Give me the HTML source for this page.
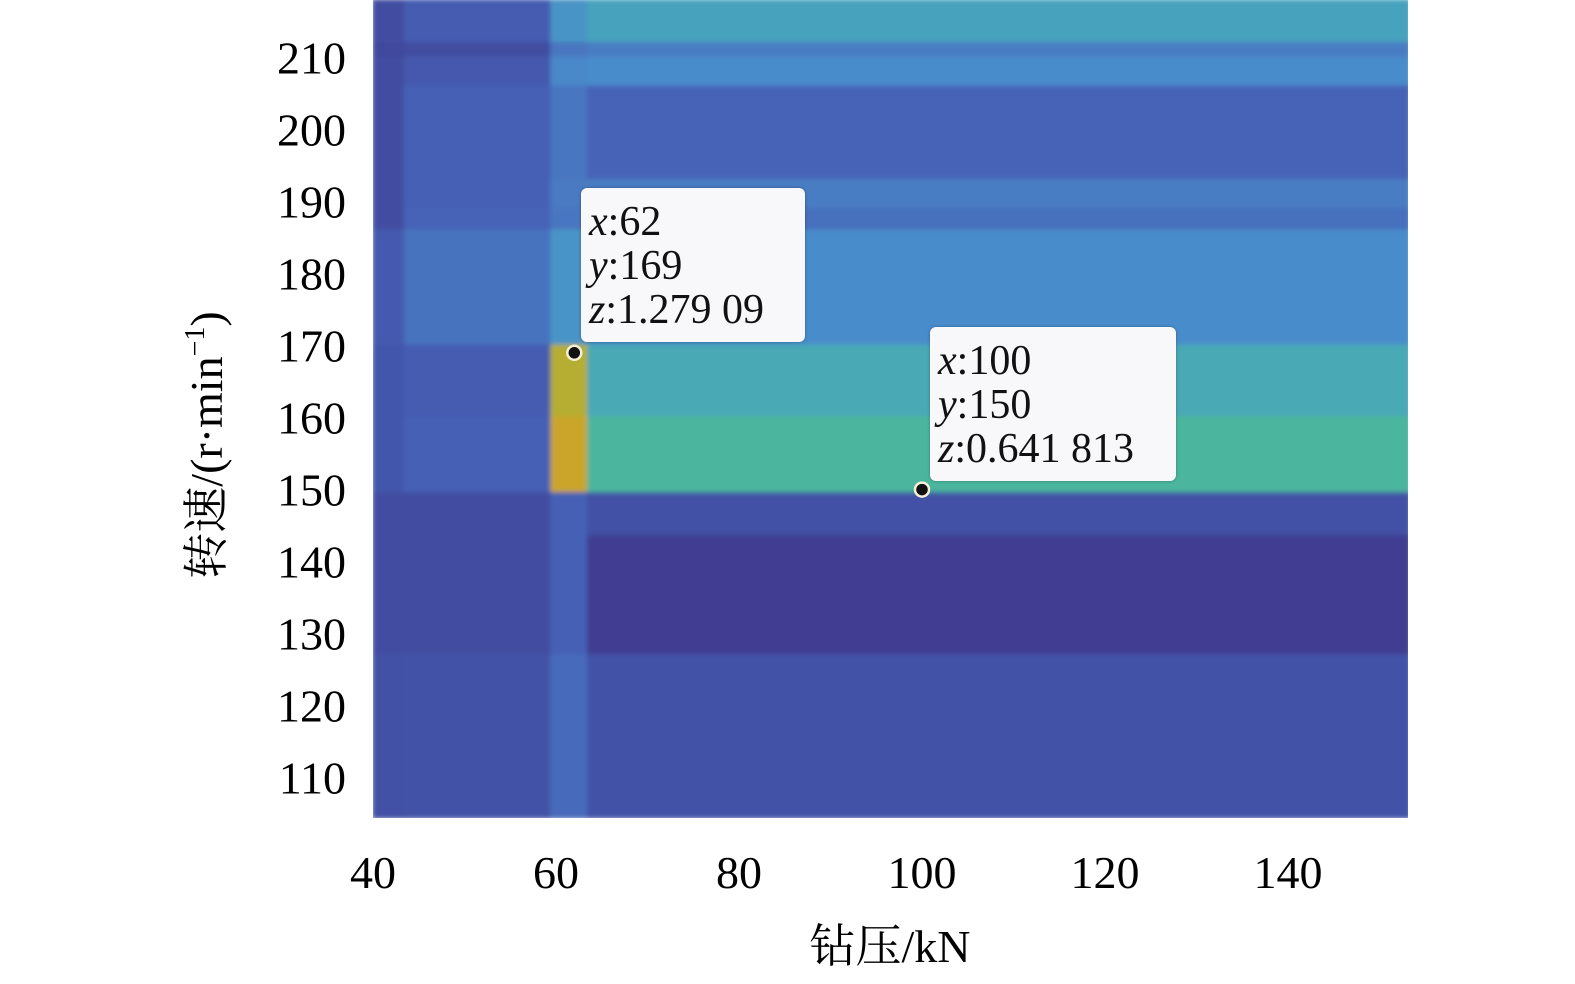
<!DOCTYPE html>
<html><head><meta charset="utf-8"><style>
body{margin:0;width:1575px;height:984px;background:#fff;overflow:hidden;font-family:"Liberation Serif","Noto Serif CJK SC",serif;}
.tip{position:absolute;background:#f8f8fb;border-radius:6px;box-shadow:0 0 3px rgba(0,0,0,.3);font-size:42px;line-height:44px;color:#111;padding:12px 12px 10px 8px;}
.tip i{font-style:italic}
</style></head><body>
<svg id="chart" width="1575" height="984" style="position:absolute;left:0;top:0">
<defs><filter id="bl" x="0" y="0" width="1" height="1"><feGaussianBlur stdDeviation="2.5"/></filter>
<clipPath id="cp"><rect x="373" y="0" width="1035" height="818"/></clipPath></defs>
<g id="cells" clip-path="url(#cp)"><g id="cellsInner" filter="url(#bl)"></g></g>
<g id="xt"></g><g id="yt"></g>
<text x="890" y="962" font-size="46" text-anchor="middle">钻压/kN</text>
<text transform="translate(222,445) rotate(-90)" font-size="46" text-anchor="middle">转速/(r·min<tspan dy="-18" font-size="28">−1</tspan><tspan dy="18">)</tspan></text>
<g id="marks"></g>
</svg>
<div class="tip" style="left:581px;top:188px;width:204px"><i>x</i>:62<br><i>y</i>:169<br><i>z</i>:1.279 09</div>
<div class="tip" style="left:930px;top:327px;width:226px"><i>x</i>:100<br><i>y</i>:150<br><i>z</i>:0.641 813</div>
<script>
const xEdges=[40,43.5,59.5,63.5,153.3];
const yEdges=[218,212,210,206,193,189,186,170,160,149.5,143.5,127,104.4];
const zRows=[
[0.1,0.18,0.45,0.54],
[0.08,0.1,0.3,0.33],
[0.1,0.16,0.38,0.4],
[0.1,0.2,0.3,0.22],
[0.1,0.2,0.32,0.33],
[0.1,0.22,0.3,0.27],
[0.17,0.28,0.45,0.4],
[0.15,0.18,1.1,0.57],
[0.15,0.2,1.2,0.64],
[0.1,0.1,0.2,0.12],
[0.1,0.1,0.2,0.02],
[0.12,0.13,0.25,0.13]];
const xTicks=[40,60,80,100,120,140];
const yTicks=[110,120,130,140,150,160,170,180,190,200,210];
const points=[[62,169],[100,150]];
const X=v=>373+(v-40)*9.15, Y=v=>(218-v)*7.2;
const stops=[[0,[62,58,142]],[0.2,[69,96,181]],[0.4,[74,140,203]],[0.55,[71,165,188]],[0.65,[76,184,154]],[0.9,[140,192,64]],[1.25,[212,160,40]]];
function cmap(z){for(let i=1;i<stops.length;i++){if(z<=stops[i][0]){const a=stops[i-1],b=stops[i],t=(z-a[0])/(b[0]-a[0]);return 'rgb('+a[1].map((c,k)=>Math.round(c+(b[1][k]-c)*t)).join(',')+')';}}return 'rgb(212,160,40)';}
const NS='http://www.w3.org/2000/svg';
const g=document.getElementById('cellsInner');
zRows.forEach((row,r)=>row.forEach((z,c)=>{
 const e=document.createElementNS(NS,'rect');
 const x0=X(xEdges[c]),x1=X(xEdges[c+1]),y0=Y(yEdges[r]),y1=Y(yEdges[r+1]);
 e.setAttribute('x',x0-1);e.setAttribute('y',y0-1);e.setAttribute('width',x1-x0+2);e.setAttribute('height',y1-y0+2);
 e.setAttribute('fill',cmap(z));
 
 
 g.appendChild(e);}));
const xt=document.getElementById('xt');
xTicks.forEach(v=>{const t=document.createElementNS(NS,'text');t.setAttribute('x',X(v));t.setAttribute('y',888);t.setAttribute('font-size','46');t.setAttribute('text-anchor','middle');t.textContent=v;
 
 
 xt.appendChild(t);});
const yt=document.getElementById('yt');
yTicks.forEach(v=>{const t=document.createElementNS(NS,'text');t.setAttribute('x',346);t.setAttribute('y',Y(v)+16);t.setAttribute('font-size','46');t.setAttribute('text-anchor','end');t.textContent=v;
 
 
 yt.appendChild(t);});
const mk=document.getElementById('marks');
points.forEach(p=>{const c=document.createElementNS(NS,'circle');c.setAttribute('cx',X(p[0]));c.setAttribute('cy',Y(p[1]));c.setAttribute('r',7);c.setAttribute('fill','#111');c.setAttribute('stroke','#f4f0d8');c.setAttribute('stroke-width','2.5');
 
 
 mk.appendChild(c);});
</script>
</body></html>
